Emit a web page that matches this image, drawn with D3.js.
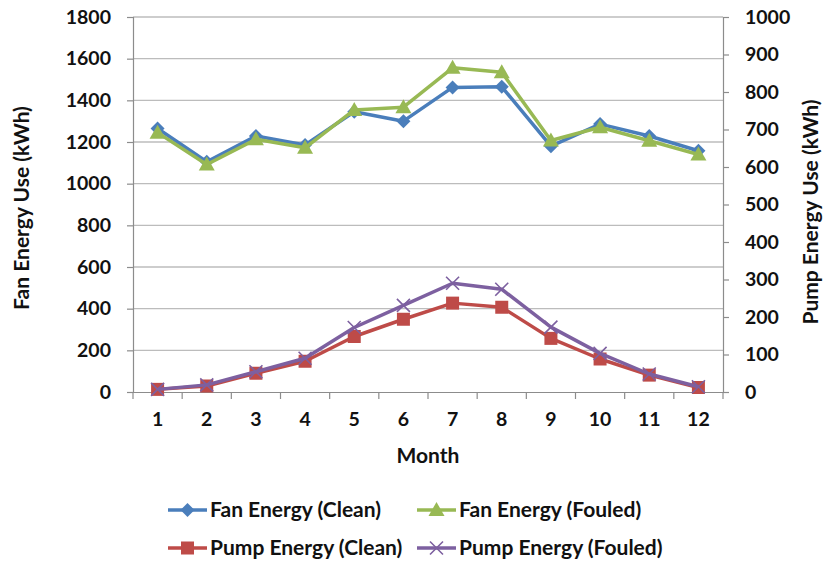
<!DOCTYPE html>
<html>
<head>
<meta charset="utf-8">
<script src="https://cdn.jsdelivr.net/npm/d3@7/dist/d3.min.js"></script>
<style>
  body { margin: 0; background: #fff; }
  svg text { font-family: Lato, "Open Sans", sans-serif; font-weight: bold; fill: #111; }
</style>
</head>
<body>
<svg id="chart" width="823" height="561"></svg>
<script>
// Monthly energy use, clean vs fouled coils
const months = [1, 2, 3, 4, 5, 6, 7, 8, 9, 10, 11, 12];
const fanClean   = [1265, 1105, 1229, 1186, 1345, 1300, 1462, 1465, 1180, 1286, 1229, 1158];
const fanFouled  = [1245, 1092, 1213, 1172, 1354, 1367, 1556, 1535, 1207, 1271, 1206, 1140];
const pumpClean  = [7, 16, 50, 82, 148, 194, 237, 226, 143, 88, 45, 12];
const pumpFouled = [7, 19, 54, 90, 172, 231, 290, 274, 173, 103, 48, 14];
const leftTicks  = [0, 200, 400, 600, 800, 1000, 1200, 1400, 1600, 1800];
const rightTicks = [0, 100, 200, 300, 400, 500, 600, 700, 800, 900, 1000];

const svg = d3.select("#chart");
const L = 133, R = 723, T = 17, B = 392;
const tickFont = "19.5px", labelFont = "21px";

const x = d3.scaleBand().domain(months).range([L, R]);
const yL = d3.scaleLinear().domain([0, 1800]).range([B, T]);
const yR = d3.scaleLinear().domain([0, 1000]).range([B, T]);
const cx = d => x(d) + x.bandwidth() / 2;

// gridlines
svg.append("g").selectAll("line").data(leftTicks.filter(d => d > 0)).join("line")
  .attr("x1", L).attr("x2", R).attr("y1", d => yL(d)).attr("y2", d => yL(d))
  .attr("stroke", "#bcbcbc").attr("stroke-width", 1.3);

// axes
const gL = svg.append("g").attr("transform", `translate(${L},0)`)
  .call(d3.axisLeft(yL).tickValues(leftTicks).tickSize(6).tickPadding(16).tickFormat(d3.format("d")));
const gR = svg.append("g").attr("transform", `translate(${R},0)`)
  .call(d3.axisRight(yR).tickValues(rightTicks).tickSize(6).tickPadding(16).tickFormat(d3.format("d")));
const gB = svg.append("g").attr("transform", `translate(0,${B})`)
  .call(d3.axisBottom(x).tickSize(0).tickPadding(20));
// category boundary ticks on the bottom axis
gB.selectAll(".sep").data(d3.range(13)).join("line").attr("class", "sep")
  .attr("x1", i => L + i * x.step()).attr("x2", i => L + i * x.step())
  .attr("y1", 0).attr("y2", 7).attr("stroke", "#8c8c8c").attr("stroke-width", 1.2);

[gL, gR, gB].forEach(g => {
  g.selectAll(".domain, .tick line").attr("stroke", "#8c8c8c").attr("stroke-width", 1.2);
  g.selectAll("text").style("font-size", tickFont).style("font-family", "Lato, sans-serif")
    .style("font-weight", "bold").attr("fill", "#111");
});

// axis titles
svg.append("text").attr("transform", "translate(29,208) rotate(-90)")
  .attr("text-anchor", "middle").style("font-size", labelFont).text("Fan Energy Use (kWh)");
svg.append("text").attr("transform", "translate(818,212) rotate(-90)")
  .attr("text-anchor", "middle").style("font-size", labelFont).text("Pump Energy Use (kWh)");
svg.append("text").attr("x", cx(6) + x.step() / 2).attr("y", 463)
  .attr("text-anchor", "middle").style("font-size", labelFont).text("Month");

// marker shapes
function marker(g, type, color) {
  if (type === "diamond") {
    g.append("path").attr("d", "M0,-7L7,0L0,7L-7,0Z").attr("fill", color);
  } else if (type === "triangle") {
    g.append("path").attr("d", "M0,-8L8,6L-8,6Z").attr("fill", color);
  } else if (type === "square") {
    g.append("rect").attr("x", -6.5).attr("y", -6.5).attr("width", 13).attr("height", 13).attr("fill", color);
  } else if (type === "x") {
    g.append("path").attr("d", "M-6.5,-6.5L6.5,6.5M-6.5,6.5L6.5,-6.5").attr("stroke", color)
      .attr("stroke-width", 1.6).attr("fill", "none");
  }
}

const series = [
  { name: "Fan Energy (Clean)",   values: fanClean,   scale: yL, color: "#4a7ebb", shape: "diamond" },
  { name: "Fan Energy (Fouled)",  values: fanFouled,  scale: yL, color: "#98b954", shape: "triangle" },
  { name: "Pump Energy (Clean)",  values: pumpClean,  scale: yR, color: "#be4b48", shape: "square" },
  { name: "Pump Energy (Fouled)", values: pumpFouled, scale: yR, color: "#7d60a0", shape: "x" }
];

series.forEach(s => {
  const line = d3.line().x((d, i) => cx(months[i])).y(d => s.scale(d));
  svg.append("path").datum(s.values).attr("d", line)
    .attr("fill", "none").attr("stroke", s.color).attr("stroke-width", 3.5)
    .attr("stroke-linejoin", "round");
  s.values.forEach((v, i) => {
    const g = svg.append("g").attr("transform", `translate(${cx(months[i])},${s.scale(v)})`);
    marker(g, s.shape, s.color);
  });
});

// legend
const legendPos = [[168, 510], [417, 510], [168, 548], [417, 548]];
series.forEach((s, i) => {
  const [lx, ly] = legendPos[i];
  const g = svg.append("g").attr("transform", `translate(${lx},${ly})`);
  g.append("line").attr("x1", 0).attr("x2", 39).attr("y1", 0).attr("y2", 0)
    .attr("stroke", s.color).attr("stroke-width", 3.5);
  const m = g.append("g").attr("transform", "translate(19.5,0)");
  marker(m, s.shape, s.color);
  g.append("text").attr("x", 42).attr("y", 7).style("font-size", labelFont).text(s.name);
});
</script>
</body>
</html>
